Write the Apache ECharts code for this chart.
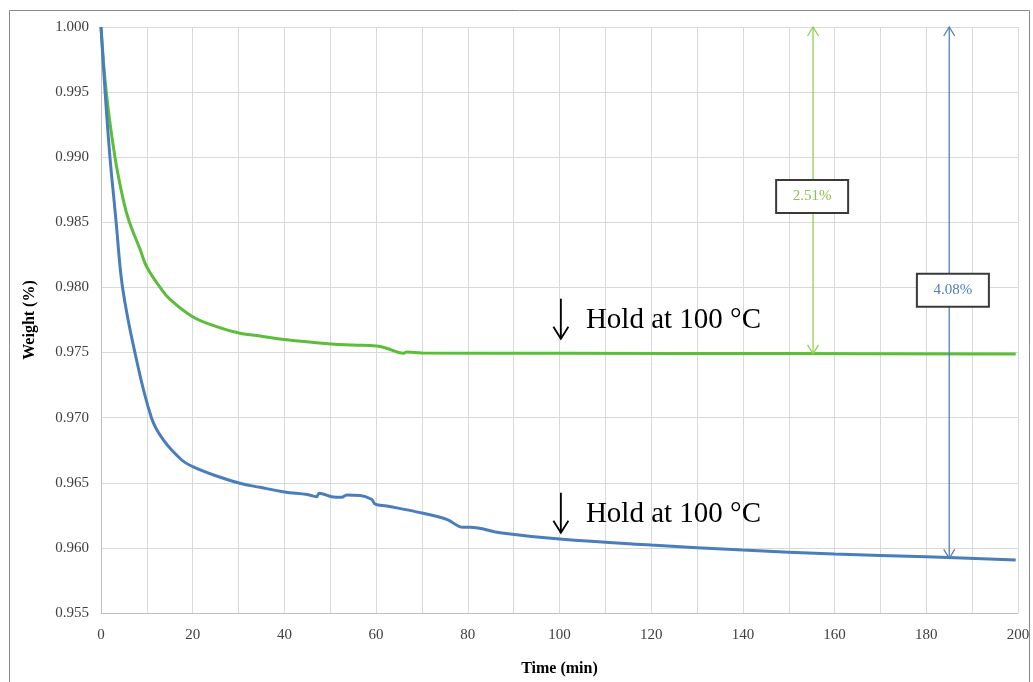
<!DOCTYPE html>
<html>
<head>
<meta charset="utf-8">
<script src="https://cdn.jsdelivr.net/npm/echarts@6/dist/echarts.min.js"></script>
<style>
  html, body { margin: 0; padding: 0; background: #fff; }
  #main { width: 1033px; height: 682px; }
</style>
</head>
<body>
<div id="main"></div>
<script>
// values
var xTicks = [0, 20, 40, 60, 80, 100, 120, 140, 160, 180, 200];

var greenT = [0, 1.15, 3.05, 4.87, 6.2, 8.5, 9.96, 12.9, 15, 20, 25.2, 30.3, 34.7, 40, 50.3, 55, 60.1, 62.3, 65.9, 66.7, 70, 100, 150, 199.5];
var greenV = [1.000, 0.995, 0.990, 0.98671, 0.985, 0.98295, 0.98159, 0.980, 0.9791, 0.97775, 0.97699, 0.97648, 0.97627, 0.9760, 0.97566, 0.97558, 0.97550, 0.97533, 0.97494, 0.97504, 0.97497, 0.97494, 0.97492, 0.97489];

var blueT = [0, 0.9, 1.95, 2.84, 3.3, 4.7, 7.4, 11.0, 13.6, 17.6, 20, 25.2, 30.3, 34.7, 40, 45, 47, 47.6, 50.3, 52.5, 53.6, 56.5, 59, 59.8, 62.3, 70.3, 75.4, 79, 80.5, 87, 100, 120, 140, 160, 180, 199.5];
var blueV = [1.000, 0.995, 0.990, 0.98671, 0.985, 0.980, 0.975, 0.970, 0.96829, 0.96675, 0.96624, 0.96552, 0.96496, 0.96465, 0.9643, 0.9641, 0.96393, 0.96419, 0.96393, 0.96388, 0.96406, 0.96403, 0.96373, 0.96337, 0.96322, 0.96266, 0.96219, 0.96158, 0.96158, 0.96117, 0.96068, 0.96022, 0.95984, 0.95953, 0.95932, 0.95907];

// difference arrows (time, top, bottom) and their boxes
var diffT = [155.3, 185];
var diffTop = [1.000, 1.000];
var diffBottom = [0.9749, 0.9592];
var diffLabels = ['2.51%', '4.08%'];
var diffBoxT = [155.1, 185.8];
var diffBoxV = [0.98698, 0.97978];

// "Hold at 100 °C" notes
var holdT = [100.3, 100.3];
var holdV = [0.9776, 0.9627];
var holdText = 'Hold at 100 °C';

var FONT = '"Liberation Serif", "Times New Roman", serif';
var GREEN = '#5cbd3a', BLUE = '#4a7dbd';
var diffColors = ['#92d050', '#4f81bd'];
var diffTextColors = ['#8cc152', '#4f81bd'];

function pairs(t, v) {
    return t.map(function (x, i) { return [x, v[i]]; });
}

var myChart = echarts.init(document.getElementById('main'));
var option = {
    animation: false,
    backgroundColor: '#fff',
    textStyle: { fontFamily: FONT },
    graphic: [{
        type: 'rect',
        shape: { x: 9.5, y: 10.5, width: 1020, height: 700 },
        style: { fill: 'none', stroke: '#8c8c8c', lineWidth: 1 },
        silent: true
    }],
    grid: { left: 101, right: 15, top: 27, bottom: 69 },
    xAxis: {
        type: 'value',
        min: 0, max: 200, interval: 20,
        name: 'Time (min)',
        nameLocation: 'middle',
        nameGap: 48,
        nameTextStyle: { fontFamily: FONT, fontWeight: 'bold', fontSize: 16, color: '#000' },
        axisLine: { lineStyle: { color: '#bfbfbf' } },
        axisTick: { show: false },
        axisLabel: {
            fontFamily: FONT, fontSize: 15, color: '#404040', margin: 15,
            customValues: xTicks
        },
        splitLine: { show: true, lineStyle: { color: '#d9d9d9' } },
        minorTick: { show: false, splitNumber: 2 },
        minorSplitLine: { show: true, lineStyle: { color: '#d9d9d9' } }
    },
    yAxis: {
        type: 'value',
        min: 0.955, max: 1.0, interval: 0.005,
        name: 'Weight (%)',
        nameLocation: 'middle',
        nameGap: 63,
        nameTextStyle: { fontFamily: FONT, fontWeight: 'bold', fontSize: 16, color: '#000' },
        axisLine: { show: true, lineStyle: { color: '#bfbfbf' } },
        axisTick: { show: false },
        axisLabel: {
            fontFamily: FONT, fontSize: 15, color: '#404040', margin: 12,
            formatter: function (v) { return v.toFixed(3); }
        },
        splitLine: { show: true, lineStyle: { color: '#d9d9d9' } }
    },
    series: [
        {
            name: 'green',
            type: 'line',
            data: pairs(greenT, greenV),
            showSymbol: false,
            smooth: 0.4,
            lineStyle: { color: GREEN, width: 3 },
            z: 3
        },
        {
            name: 'blue',
            type: 'line',
            data: pairs(blueT, blueV),
            showSymbol: false,
            smooth: 0.4,
            lineStyle: { color: BLUE, width: 3 },
            z: 3
        },
        {
            // double arrows
            type: 'custom',
            clip: false,
            z: 4,
            data: diffT.map(function (t, i) { return [t, diffTop[i], diffBottom[i], i]; }),
            renderItem: function (params, api) {
                var i = api.value(3);
                var a = api.coord([api.value(0), api.value(1)]);
                var b = api.coord([api.value(0), api.value(2)]);
                var st = { stroke: diffColors[i], lineWidth: 1.3, fill: 'none' };
                return {
                    type: 'group',
                    children: [
                        { type: 'line', shape: { x1: a[0], y1: a[1], x2: b[0], y2: b[1] }, style: st },
                        { type: 'polyline', shape: { points: [[a[0] - 5.5, a[1] + 9], [a[0], a[1]], [a[0] + 5.5, a[1] + 9]] }, style: st },
                        { type: 'polyline', shape: { points: [[b[0] - 5.5, b[1] - 9], [b[0], b[1]], [b[0] + 5.5, b[1] - 9]] }, style: st }
                    ]
                };
            }
        },
        {
            // percentage boxes
            type: 'custom',
            clip: false,
            z: 5,
            data: diffBoxT.map(function (t, i) { return [t, diffBoxV[i], i]; }),
            renderItem: function (params, api) {
                var i = api.value(2);
                var p = api.coord([api.value(0), api.value(1)]);
                var w = 72, h = 33;
                return {
                    type: 'group',
                    children: [
                        { type: 'rect', shape: { x: p[0] - w / 2, y: p[1] - h / 2, width: w, height: h },
                          style: { fill: '#fff', stroke: '#3a3a3a', lineWidth: 2 } },
                        { type: 'text', x: p[0], y: p[1],
                          style: { text: diffLabels[i], fill: diffTextColors[i], font: '15px ' + FONT,
                                   align: 'center', verticalAlign: 'middle' } }
                    ]
                };
            }
        },
        {
            // hold notes
            type: 'custom',
            clip: false,
            z: 5,
            data: pairs(holdT, holdV),
            renderItem: function (params, api) {
                var p = api.coord([api.value(0), api.value(1)]);
                var st = { stroke: '#000', lineWidth: 1.8, fill: 'none' };
                var y1 = p[1] - 20, y2 = p[1] + 20;
                return {
                    type: 'group',
                    children: [
                        { type: 'line', shape: { x1: p[0], y1: y1, x2: p[0], y2: y2 }, style: st },
                        { type: 'polyline', shape: { points: [[p[0] - 7.5, y2 - 12], [p[0], y2], [p[0] + 7.5, y2 - 12]] }, style: st },
                        { type: 'text', x: p[0] + 25, y: p[1] + 2,
                          style: { text: holdText, fill: '#000', font: '29px ' + FONT,
                                   align: 'left', verticalAlign: 'middle' } }
                    ]
                };
            }
        }
    ]
};
myChart.setOption(option);
</script>
</body>
</html>
